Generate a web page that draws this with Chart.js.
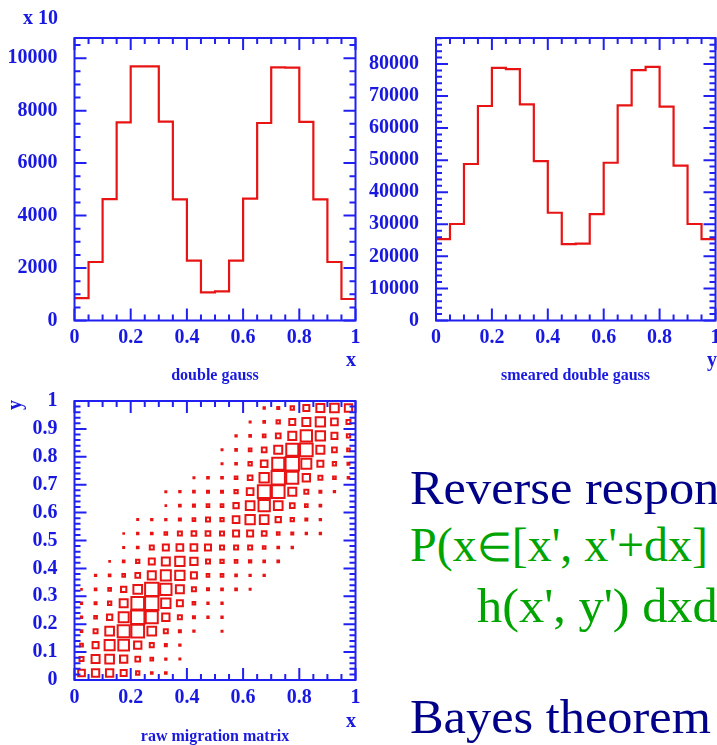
<!DOCTYPE html>
<html>
<head>
<meta charset="utf-8">
<script src="https://cdn.jsdelivr.net/npm/chart.js@4.4.1/dist/chart.umd.min.js"></script>
<style>
  html, body { margin: 0; padding: 0; background: #fff; }
  body { width: 717px; height: 745px; position: relative; overflow: hidden; }
  canvas { position: absolute; }
  .lbl { position: absolute; font-family: 'Liberation Serif', 'Times New Roman', serif; font-weight: bold;
         color: #1818e0; line-height: 1; white-space: nowrap; }
  .mid { transform: translateX(-50%); }
  .big { position: absolute; font-family: 'Liberation Serif', 'Times New Roman', serif; font-size: 48px;
         line-height: 1; white-space: nowrap; transform-origin: 0 0; transform: scaleX(1.05); }
  .navy { color: #000088; }
  .green { color: #00a400; }
</style>
</head>
<body>
<canvas id="cTrue" width="360" height="390" style="left:0;top:0"></canvas>
<canvas id="cSmear" width="357" height="390" style="left:360px;top:0"></canvas>
<canvas id="cMatrix" width="360" height="355" style="left:0;top:390px"></canvas>

<div class="lbl" style="left:23px;top:6.5px;font-size:20px">x 10</div>
<div class="lbl" style="left:346px;top:348.7px;font-size:20px">x</div>
<div class="lbl mid" style="left:215px;top:366.6px;font-size:16px">double gauss</div>
<div class="lbl" style="left:707px;top:348.7px;font-size:20px">y</div>
<div class="lbl mid" style="left:575.5px;top:366.6px;font-size:16px">smeared double gauss</div>
<div class="lbl" style="left:9px;top:395px;font-size:20px;transform:rotate(-90deg)">y</div>
<div class="lbl" style="left:346px;top:710.2px;font-size:20px">x</div>
<div class="lbl mid" style="left:215px;top:727.6px;font-size:16px">raw migration matrix</div>

<div class="big navy" style="left:410px;top:463.8px">Reverse response</div>
<div class="big green" id="pLine" style="left:410px;top:520.8px">P(x<span style="font-size:40px">&isin;</span>[x', x'+dx]</div>
<div class="big green" style="left:477px;top:582.3px">h(x', y') dxdy</div>
<div class="big navy" style="left:410px;top:693.1px">Bayes theorem</div>

<script>
// 20 bins on [0,1]
const nBins = 20;
const binWidth = 1 / nBins;

// generated distribution (axis shown "x 10")
const doubleGauss = [850, 2230, 4630, 7550, 9690, 9690, 7580, 4620, 2280, 1070,
                     1110, 2280, 4650, 7530, 9650, 9640, 7570, 4620, 2230, 820];

// after smearing
const smearedGauss = [25400, 30100, 48800, 66900, 78800, 78400, 67400, 49700, 33600, 23800,
                      24000, 33200, 49200, 67100, 78100, 79100, 66700, 48300, 30100, 25400];

// raw migration matrix, row j = y bin (0 at bottom), column i = x bin
const migration = [
  [20, 22, 22, 18, 10,  5,  5,  0,  0,  0,  0,  0,  0,  0,  0,  0,  0,  0,  0,  0],
  [12, 24, 26, 22, 14,  8,  4,  3,  0,  0,  0,  0,  0,  0,  0,  0,  0,  0,  0,  0],
  [ 8, 18, 30, 32, 22, 12,  6,  4,  0,  0,  0,  0,  0,  0,  0,  0,  0,  0,  0,  0],
  [ 5, 12, 26, 36, 38, 26, 12,  6,  4,  0,  3,  0,  0,  0,  0,  0,  0,  0,  0,  0],
  [ 4,  8, 16, 30, 40, 36, 22, 12,  6,  4,  4,  0,  0,  0,  0,  0,  0,  0,  0,  0],
  [ 4,  6, 10, 24, 38, 40, 28, 18,  8,  4,  4,  0,  0,  0,  0,  0,  0,  0,  0,  0],
  [ 2,  5,  8, 16, 26, 40, 34, 24, 12,  6,  5,  5,  3,  0,  0,  0,  0,  0,  0,  0],
  [ 0,  4,  5,  8, 14, 24, 30, 28, 18,  8,  8,  5,  4,  4,  0,  0,  0,  0,  0,  0],
  [ 0,  0,  2,  5, 10, 18, 24, 28, 22, 12, 10,  8,  7,  5,  5,  0,  0,  0,  0,  0],
  [ 0,  0,  0,  3,  5, 12, 18, 20, 20, 18, 12, 12, 12,  8,  5,  4,  0,  0,  0,  0],
  [ 0,  0,  0,  2,  4,  5,  8, 12, 14, 14, 12, 18, 18, 14,  8,  6,  4,  4,  0,  0],
  [ 0,  0,  0,  0,  3,  4,  4,  6,  8, 12, 10, 20, 28, 26, 16, 10,  6,  4,  0,  0],
  [ 0,  0,  0,  0,  0,  0,  2,  5,  6,  8,  8, 16, 26, 34, 26, 14,  8,  5,  0,  0],
  [ 0,  0,  0,  0,  0,  0,  3,  4,  5,  6,  6, 10, 20, 38, 38, 24, 12,  6,  4,  0],
  [ 0,  0,  0,  0,  0,  0,  0,  0,  3,  5,  5,  8, 14, 28, 40, 36, 22, 12,  8,  5],
  [ 0,  0,  0,  0,  0,  0,  0,  0,  0,  0,  3,  5, 10, 20, 36, 40, 30, 18, 10,  6],
  [ 0,  0,  0,  0,  0,  0,  0,  0,  0,  0,  3,  5,  8, 14, 24, 36, 38, 24, 14,  8],
  [ 0,  0,  0,  0,  0,  0,  0,  0,  0,  0,  0,  4,  5,  8, 14, 24, 34, 28, 18, 10],
  [ 0,  0,  0,  0,  0,  0,  0,  0,  0,  0,  0,  0,  3,  5, 10, 18, 24, 28, 20, 12],
  [ 0,  0,  0,  0,  0,  0,  0,  0,  0,  0,  0,  0,  0,  4,  6, 10, 18, 24, 26, 22]
];

const BLUE = '#2020f0';
const LABEL = '#1818e0';
const RED = '#e81414';
const FONT = { family: "'Liberation Serif', 'Times New Roman', serif", weight: 'bold', size: 20 };

// ROOT style frame: box plus inward ticks on all four sides
const rootFrame = {
  id: 'rootFrame',
  afterDraw(chart, args, o) {
    const ctx = chart.ctx, a = chart.chartArea;
    const xs = chart.scales.x, ys = chart.scales.y;
    const each = (scale, minor, major, fn) => {
      const n = Math.floor((scale.max - scale.min) / minor + 1e-6);
      for (let k = 0; k <= n; k++) {
        const v = scale.min + k * minor;
        const r = v / major;
        fn(scale.getPixelForValue(v), Math.abs(r - Math.round(r)) < 1e-6 ? 12 : 6);
      }
    };
    ctx.save();
    ctx.strokeStyle = BLUE;
    ctx.lineWidth = 2;
    ctx.beginPath();
    each(xs, o.xMinor, o.xMajor, (p, len) => {
      ctx.moveTo(p, a.bottom); ctx.lineTo(p, a.bottom - len);
      ctx.moveTo(p, a.top); ctx.lineTo(p, a.top + len);
    });
    each(ys, o.yMinor, o.yMajor, (p, len) => {
      ctx.moveTo(a.left, p); ctx.lineTo(a.left + len, p);
      ctx.moveTo(a.right, p); ctx.lineTo(a.right - len, p);
    });
    ctx.stroke();
    ctx.strokeRect(a.left, a.top, a.right - a.left, a.bottom - a.top);
    ctx.restore();
  }
};

const fmt = v => String(Number(v.toFixed(3)));

// labelled ticks at every multiple of step that fits under the axis max
function stepTicks(step) {
  return s => {
    const n = Math.floor(s.max / step + 1e-6);
    s.ticks = [];
    for (let k = 0; k <= n; k++) s.ticks.push({ value: k * step });
  };
}

function xAxis(pad) {
  return {
    type: 'linear', min: 0, max: 1,
    grid: { display: false, drawTicks: false }, border: { display: false },
    ticks: { autoSkip: false, maxRotation: 0, padding: pad, color: LABEL, font: FONT, callback: fmt },
    afterBuildTicks: stepTicks(0.2),
    afterFit: s => { s.height = 40; s.paddingLeft = 0; s.paddingRight = 0; }
  };
}

function yAxis(max, step, width) {
  return {
    type: 'linear', min: 0, max: max,
    grid: { display: false, drawTicks: false }, border: { display: false },
    ticks: { autoSkip: false, padding: 17, color: LABEL, font: FONT, callback: fmt },
    afterBuildTicks: stepTicks(step),
    afterFit: s => { s.width = width; s.paddingTop = 0; s.paddingBottom = 0; }
  };
}

function histPoints(values) {
  const pts = values.map((v, i) => ({ x: i * binWidth, y: v }));
  pts.push({ x: 1, y: values[values.length - 1] });
  return pts;
}

function histChart(id, values, yMax, yStep, yMinor, yWidth, padRight) {
  return new Chart(document.getElementById(id), {
    type: 'line',
    data: {
      datasets: [{
        data: histPoints(values),
        stepped: true,
        borderColor: RED,
        borderWidth: 2.2,
        pointRadius: 0,
        fill: false
      }]
    },
    options: {
      responsive: false, animation: false, events: [],
      layout: { padding: { left: 0, top: 38, right: padRight, bottom: 29.5 } },
      plugins: {
        legend: { display: false }, tooltip: { enabled: false },
        rootFrame: { xMinor: 0.05, xMajor: 0.2, yMinor: yMinor, yMajor: yStep }
      },
      scales: { x: xAxis(5), y: yAxis(yMax, yStep, yWidth) }
    },
    plugins: [rootFrame]
  });
}

histChart('cTrue', doubleGauss, 10770, 2000, 500, 74.5, 4.5);
histChart('cSmear', smearedGauss, 88100, 10000, 2000, 76, 1.5);

// box plot of the migration matrix
const cells = [];
let vMax = 0;
migration.forEach((row, j) => row.forEach((v, i) => {
  if (v > 0) cells.push({ x: (i + 0.5) * binWidth, y: (j + 0.5) * binWidth, v: v });
  vMax = Math.max(vMax, v);
}));

new Chart(document.getElementById('cMatrix'), {
  type: 'scatter',
  data: {
    datasets: [{
      data: cells,
      pointStyle: 'rect',
      borderColor: RED,
      backgroundColor: 'rgba(0,0,0,0)',
      borderWidth: 2,
      pointRadius: ctx => {
        const xs = ctx.chart.scales.x;
        const cell = xs.getPixelForValue(binWidth) - xs.getPixelForValue(0);
        return cell * 0.95 * ctx.raw.v / vMax / Math.SQRT2;
      }
    }]
  },
  options: {
    responsive: false, animation: false, events: [],
    layout: { padding: { left: 0, top: 11, right: 4.5, bottom: 25 } },
    plugins: {
      legend: { display: false }, tooltip: { enabled: false },
      rootFrame: { xMinor: 0.05, xMajor: 0.2, yMinor: 0.02, yMajor: 0.1 }
    },
    scales: { x: xAxis(6), y: yAxis(1, 0.1, 74.5) }
  },
  plugins: [rootFrame]
});

// the formula line ends at x = 708 in the slide
const pLine = document.getElementById('pLine');
pLine.style.transform = 'scaleX(' + (298 / pLine.getBoundingClientRect().width * 1.05) + ')';
</script>
</body>
</html>
